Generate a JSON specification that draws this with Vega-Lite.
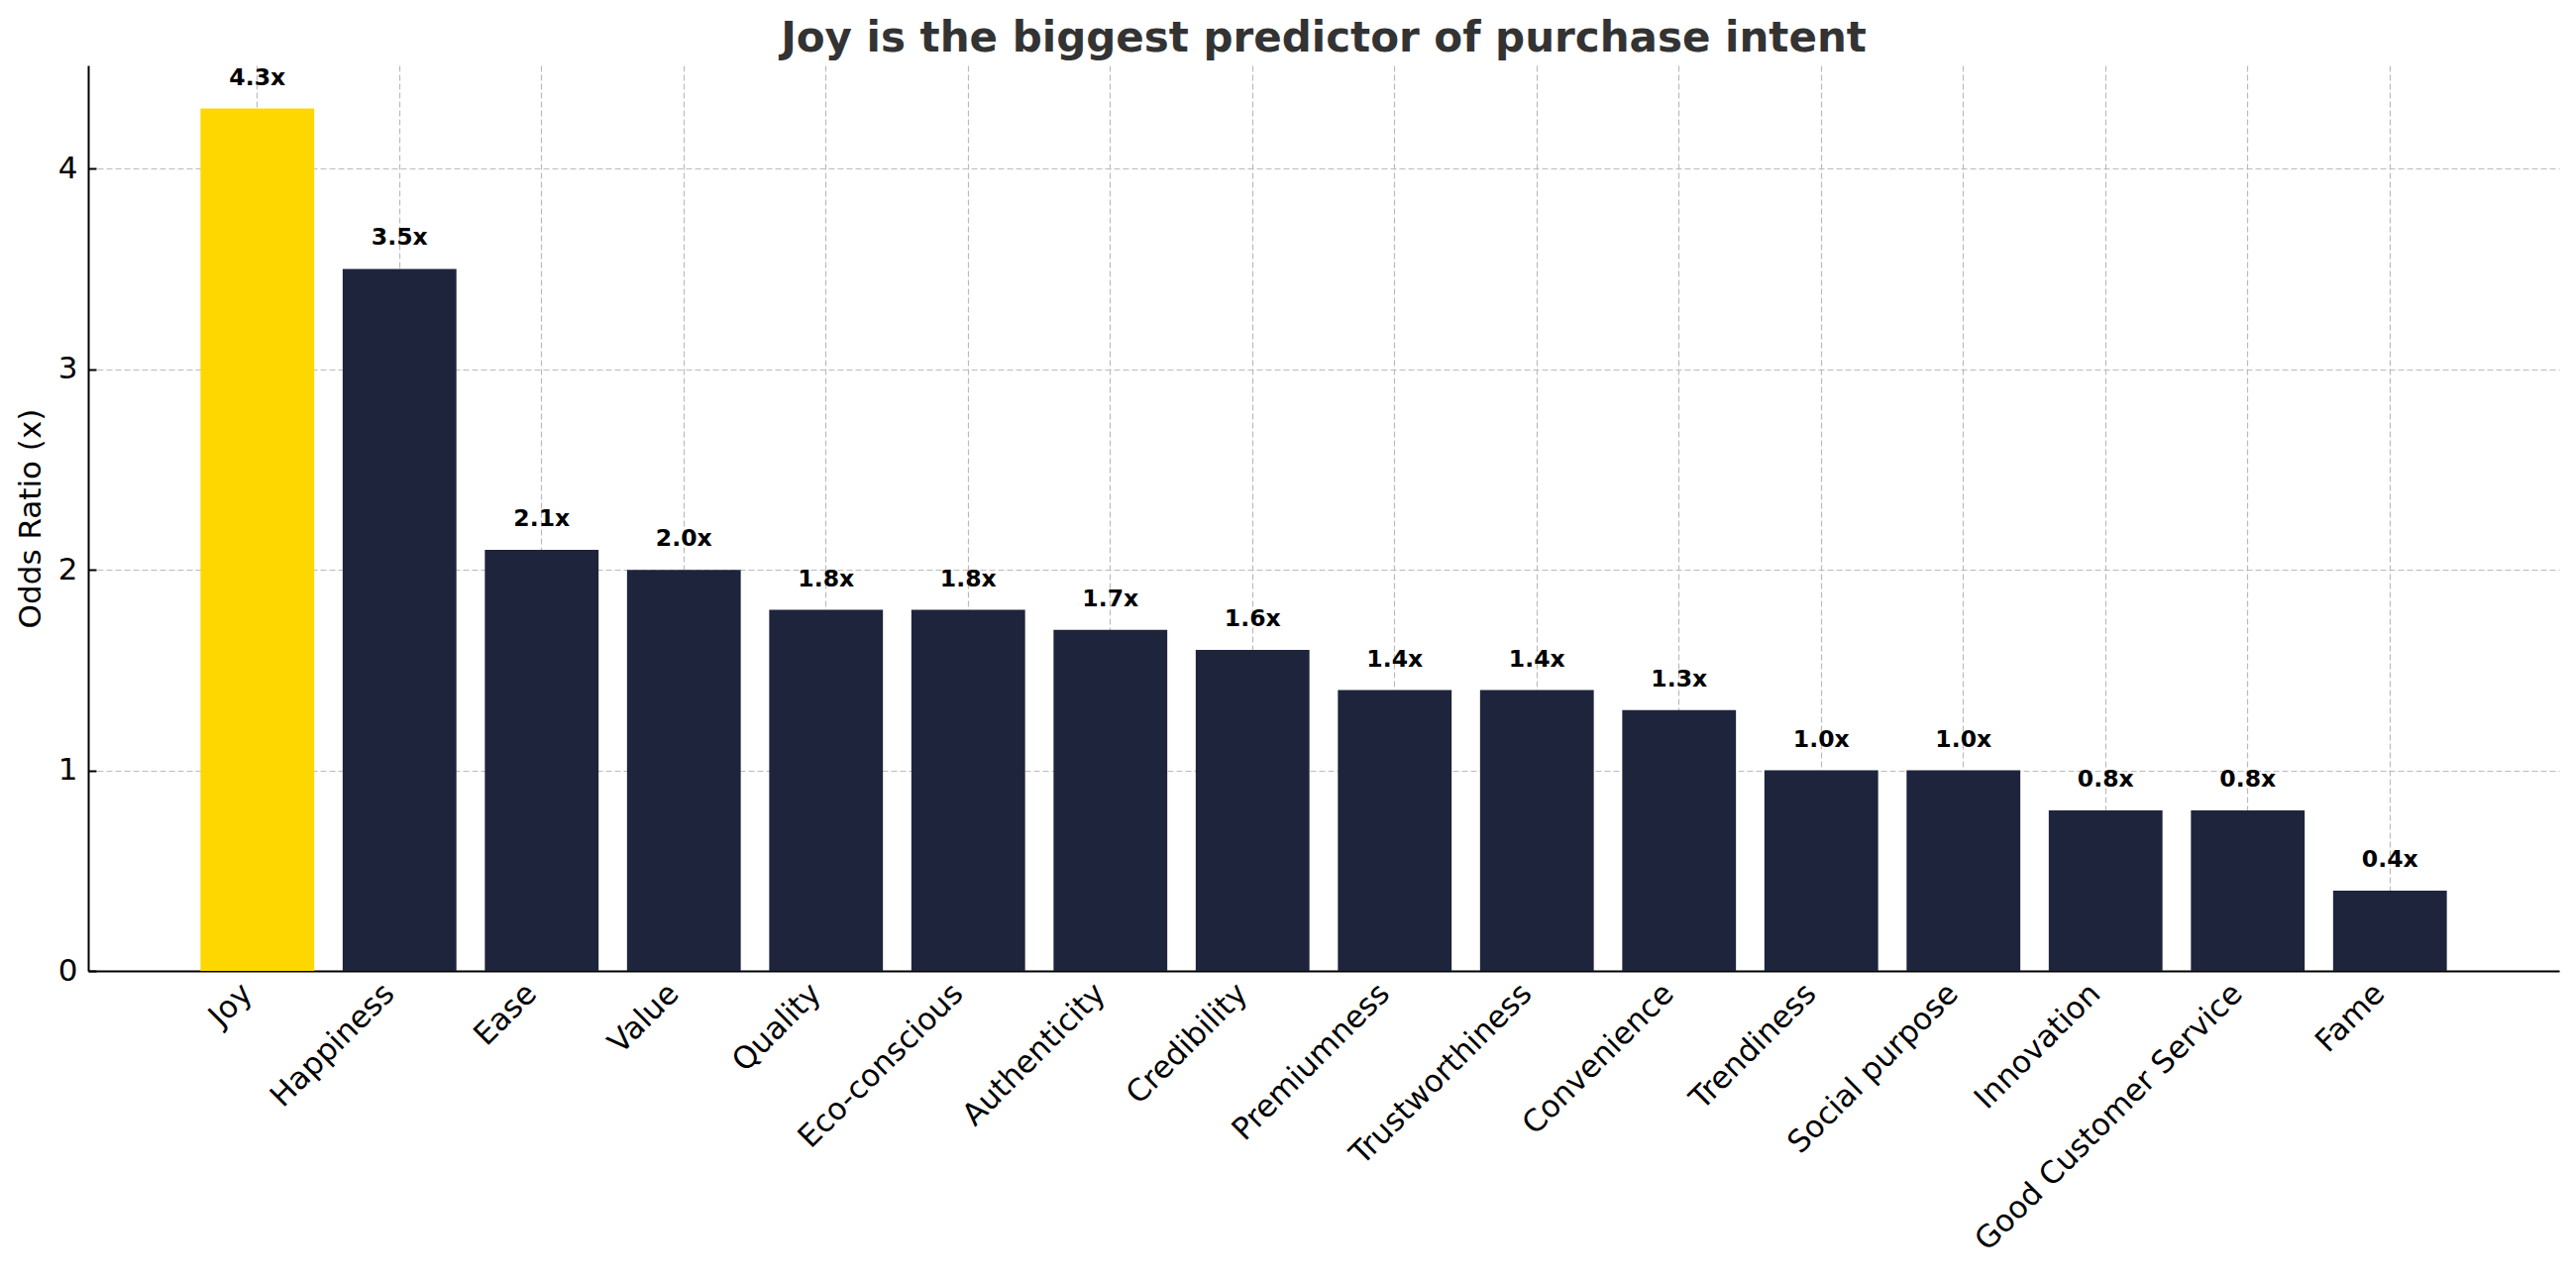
{
  "$schema": "https://vega.github.io/schema/vega-lite/v6.json",
  "width": 2494,
  "height": 914,
  "autosize": {"type": "none"},
  "padding": {"left": 89, "top": 66, "right": 17, "bottom": 311},
  "background": "white",
  "title": {
    "text": "Joy is the biggest predictor of purchase intent",
    "fontSize": 42,
    "fontWeight": "bold",
    "color": "#333333",
    "font": "DejaVu Sans",
    "anchor": "middle",
    "frame": "group",
    "offset": 5
  },
  "config": {
    "view": {"stroke": null},
    "font": "DejaVu Sans",
    "axis": {
      "domainColor": "black",
      "domainWidth": 2,
      "tickColor": "black",
      "tickWidth": 2,
      "tickSize": -8,
      "labelColor": "black",
      "labelFontSize": 31,
      "labelFont": "DejaVu Sans",
      "labelLimit": 1000,
      "titleFont": "DejaVu Sans",
      "titleFontSize": 31,
      "titleFontWeight": "normal",
      "titleColor": "black",
      "gridColor": "#bbbbbb",
      "gridDash": [6, 3],
      "gridWidth": 1.2,
      "zindex": 1
    }
  },
  "data": {
    "values": [
      {"attribute": "Joy", "odds": 4.3, "label": "4.3x"},
      {"attribute": "Happiness", "odds": 3.5, "label": "3.5x"},
      {"attribute": "Ease", "odds": 2.1, "label": "2.1x"},
      {"attribute": "Value", "odds": 2.0, "label": "2.0x"},
      {"attribute": "Quality", "odds": 1.8, "label": "1.8x"},
      {"attribute": "Eco-conscious", "odds": 1.8, "label": "1.8x"},
      {"attribute": "Authenticity", "odds": 1.7, "label": "1.7x"},
      {"attribute": "Credibility", "odds": 1.6, "label": "1.6x"},
      {"attribute": "Premiumness", "odds": 1.4, "label": "1.4x"},
      {"attribute": "Trustworthiness", "odds": 1.4, "label": "1.4x"},
      {"attribute": "Convenience", "odds": 1.3, "label": "1.3x"},
      {"attribute": "Trendiness", "odds": 1.0, "label": "1.0x"},
      {"attribute": "Social purpose", "odds": 1.0, "label": "1.0x"},
      {"attribute": "Innovation", "odds": 0.8, "label": "0.8x"},
      {"attribute": "Good Customer Service", "odds": 0.8, "label": "0.8x"},
      {"attribute": "Fame", "odds": 0.4, "label": "0.4x"}
    ]
  },
  "encoding": {
    "x": {
      "field": "attribute",
      "type": "nominal",
      "sort": null,
      "title": null,
      "scale": {"paddingInner": 0.2, "paddingOuter": 0.79},
      "axis": {
        "labelAngle": -45,
        "labelAlign": "right",
        "labelBaseline": "middle",
        "labelPadding": 26,
        "labelOffset": -10,
        "bandPosition": 0.5,
        "grid": true
      }
    },
    "y": {
      "field": "odds",
      "type": "quantitative",
      "title": "Odds Ratio (x)",
      "scale": {"domain": [0, 4.515], "nice": false},
      "axis": {
        "values": [0, 1, 2, 3, 4],
        "labelPadding": 19,
        "titlePadding": 11
      }
    }
  },
  "layer": [
    {
      "mark": {"type": "bar"},
      "encoding": {
        "color": {
          "condition": {"test": "datum.attribute === 'Joy'", "value": "#FFD700"},
          "value": "#1E243B"
        }
      }
    },
    {
      "mark": {
        "type": "text",
        "fontSize": 23.5,
        "fontWeight": "bold",
        "color": "black",
        "baseline": "alphabetic",
        "dy": -24
      },
      "encoding": {
        "text": {"field": "label"}
      }
    }
  ]
}
